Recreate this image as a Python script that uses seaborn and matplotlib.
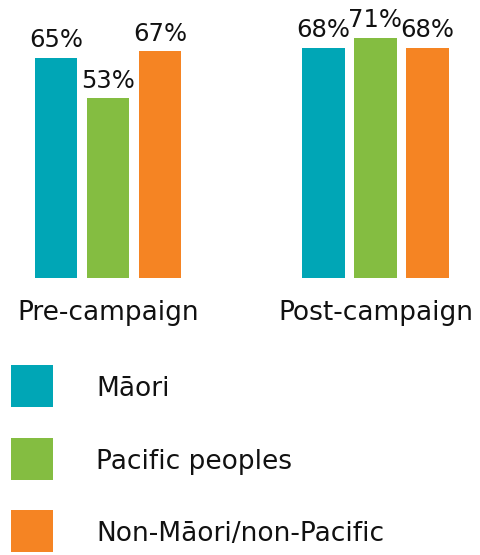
import pandas as pd
import seaborn as sns
import matplotlib.pyplot as plt
from matplotlib.patches import Rectangle

periods = ['Pre-campaign', 'Post-campaign']
groups = ['Māori', 'Pacific peoples', 'Non-Māori/non-Pacific']
pre_values = [65, 53, 67]
post_values = [68, 71, 68]
colors = ['#00A6B6', '#84BD41', '#F58423']

df = pd.DataFrame({
    'period': [periods[0]] * 3 + [periods[1]] * 3,
    'group': groups * 2,
    'value': pre_values + post_values,
})

sns.set_style('white')
plt.rcParams['font.family'] = ['DejaVu Sans']
fs = 17.5      # percent labels
fs_txt = 19    # category and legend labels

fig = plt.figure(figsize=(4.81, 5.55), dpi=100)
ax = fig.add_axes([0, 1 - 277.7 / 555, 1, 277.7 / 555])

sns.barplot(data=df, x='period', y='value', hue='group', palette=colors,
            width=0.583, gap=0.19, saturation=1, linewidth=0,
            legend=False, ax=ax)

for c in ax.containers:
    ax.bar_label(c, fmt='%g%%', padding=4, fontsize=fs, color='#111111')

ax.set_xlim(-108 / 267.5, (481 - 108) / 267.5)
ax.set_ylim(0, 82.1)
ax.set_xlabel('')
ax.set_ylabel('')
ax.set_yticks([])
ax.tick_params(axis='x', length=0, pad=16, labelsize=fs_txt, labelcolor='#111111')
sns.despine(ax=ax, left=True, bottom=True)

# legend drawn by hand in pixel coordinates
lax = fig.add_axes([0, 0, 1, 1], zorder=-1)
lax.set_xlim(0, 481)
lax.set_ylim(555, 0)
lax.axis('off')
row_tops = [365, 438, 510]
for top, col, name in zip(row_tops, colors, groups):
    lax.add_patch(Rectangle((11, top), 42, 42, facecolor=col, linewidth=0))
    lax.text(96, top + 31, name, fontsize=fs_txt, color='#111111', va='baseline')

fig.savefig('out.png', dpi=100)
